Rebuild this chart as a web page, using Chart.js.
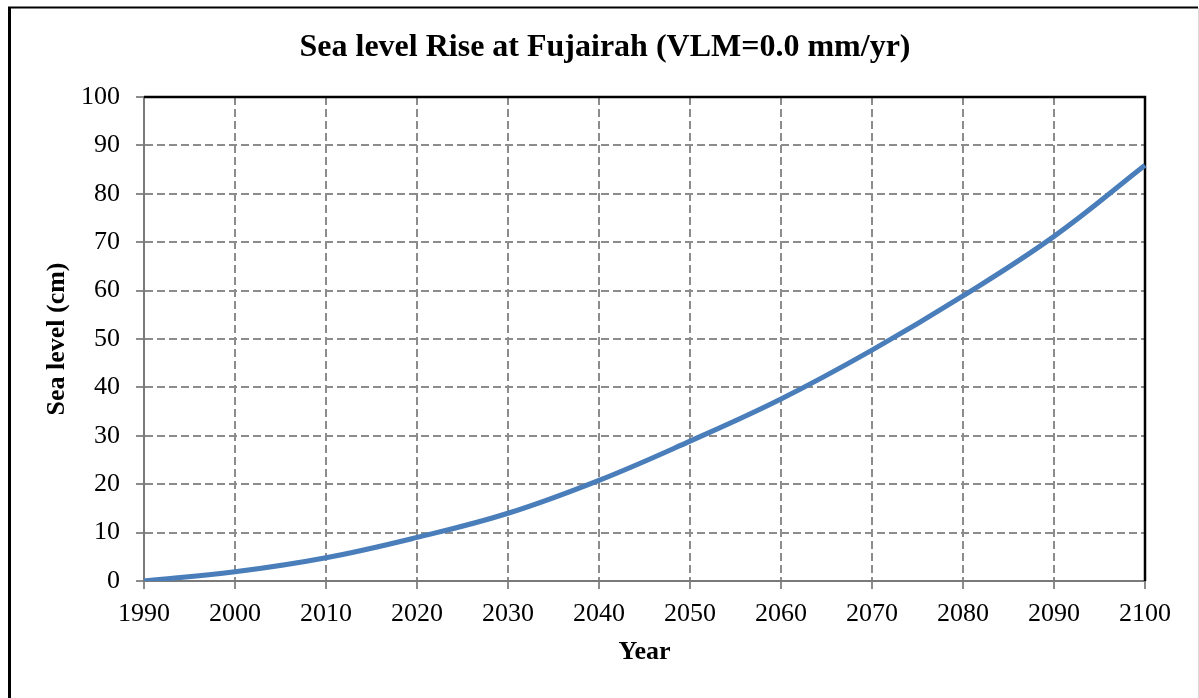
<!DOCTYPE html>
<html>
<head>
<meta charset="utf-8">
<script src="https://cdn.jsdelivr.net/npm/chart.js@4"></script>
<style>
  html, body { margin: 0; padding: 0; background: #ffffff; }
  #wrap { width: 1199px; height: 698px; }
</style>
</head>
<body>
<div id="wrap"><canvas id="c" width="1199" height="698"></canvas></div>
<script>
const years = ['1990','2000','2010','2020','2030','2040','2050','2060','2070','2080','2090','2100'];
const seaLevel = [0, 1.9, 4.8, 9.0, 14.0, 20.8, 28.9, 37.6, 47.7, 58.9, 71.2, 85.9];
const chartTitle = 'Sea level Rise at Fujairah (VLM=0.0 mm/yr)';
const xTitle = 'Year';
const yTitle = 'Sea level (cm)';
const yMin = 0, yMax = 100, yStep = 10;

const FONT = '"Liberation Serif", "Times New Roman", serif';

const framePlugin = {
  id: 'frame',
  beforeDraw(chart) {
    const c = chart.ctx;
    c.save();
    c.fillStyle = '#ffffff';
    c.fillRect(0, 0, chart.width, chart.height);
    c.strokeStyle = '#000000';
    c.lineWidth = 3;
    c.beginPath();
    c.moveTo(9.5, 698);
    c.lineTo(9.5, 7.5);
    c.stroke();
    c.lineWidth = 2;
    c.beginPath();
    c.moveTo(8, 7.5);
    c.lineTo(1198, 7.5);
    c.stroke();
    c.strokeStyle = '#d9d9d9';
    c.lineWidth = 1;
    c.beginPath();
    c.moveTo(1198.5, 8);
    c.lineTo(1198.5, 698);
    c.stroke();
    c.restore();
  },
  beforeDatasetsDraw(chart) {
    const a = chart.chartArea;
    const c = chart.ctx;
    c.save();
    c.strokeStyle = '#000000';
    c.lineWidth = 2.5;
    c.beginPath();
    c.moveTo(a.left, a.top);
    c.lineTo(a.right, a.top);
    c.lineTo(a.right, a.bottom);
    c.stroke();
    c.restore();
  }
};

new Chart(document.getElementById('c'), {
  type: 'line',
  data: {
    labels: years,
    datasets: [{
      data: seaLevel,
      borderColor: '#4a7ebb',
      borderWidth: 5,
      pointRadius: 0,
      tension: 0.4,
      fill: false,
      yAxisID: 'y'
    }]
  },
  options: {
    responsive: false,
    animation: false,
    devicePixelRatio: 1,
    layout: { padding: { left: 11, right: 0, top: 0, bottom: 0 } },
    plugins: {
      legend: { display: false },
      tooltip: { enabled: false },
      title: {
        display: true,
        text: chartTitle,
        color: '#000000',
        font: { family: FONT, size: 32, weight: 'bold', lineHeight: 1.2 },
        padding: { top: 29, bottom: 29.6 }
      }
    },
    scales: {
      x: {
        type: 'category',
        offset: false,
        afterFit(s) { s.height = 117; },
        grid: {
          color: '#8c8c8c',
          lineWidth: 2,
          drawTicks: true,
          tickLength: 8,
          tickColor: '#8c8c8c',
          tickWidth: 2
        },
        border: { display: true, color: '#7a7a7a', width: 2, dash: [8, 4] },
        ticks: {
          color: '#000000',
          font: { family: FONT, size: 26 },
          padding: 10,
          maxRotation: 0,
          autoSkip: false
        },
        title: {
          display: true,
          text: xTitle,
          color: '#000000',
          font: { family: FONT, size: 26, weight: 'bold', lineHeight: 1.2 },
          padding: { top: 0, bottom: 30 }
        }
      },
      y: {
        type: 'linear',
        position: 'left',
        min: yMin,
        max: yMax,
        afterFit(s) { s.width = 133; },
        grid: {
          color: '#8c8c8c',
          lineWidth: 2,
          drawTicks: true,
          tickLength: 8,
          tickColor: '#8c8c8c',
          tickWidth: 2
        },
        border: { display: true, color: '#7a7a7a', width: 2, dash: [8, 4] },
        ticks: {
          stepSize: yStep,
          color: '#000000',
          font: { family: FONT, size: 26 },
          padding: 16
        },
        title: {
          display: true,
          text: yTitle,
          color: '#000000',
          font: { family: FONT, size: 26, weight: 'bold', lineHeight: 1.2 },
          padding: { top: 31, bottom: 0 }
        }
      },
      yRight: {
        type: 'linear',
        position: 'right',
        min: yMin,
        max: yMax,
        afterFit(s) { s.width = 54; },
        grid: { display: false, drawOnChartArea: false },
        border: { display: false },
        ticks: { display: false },
        title: { display: false }
      }
    }
  },
  plugins: [framePlugin]
});
</script>
</body>
</html>
